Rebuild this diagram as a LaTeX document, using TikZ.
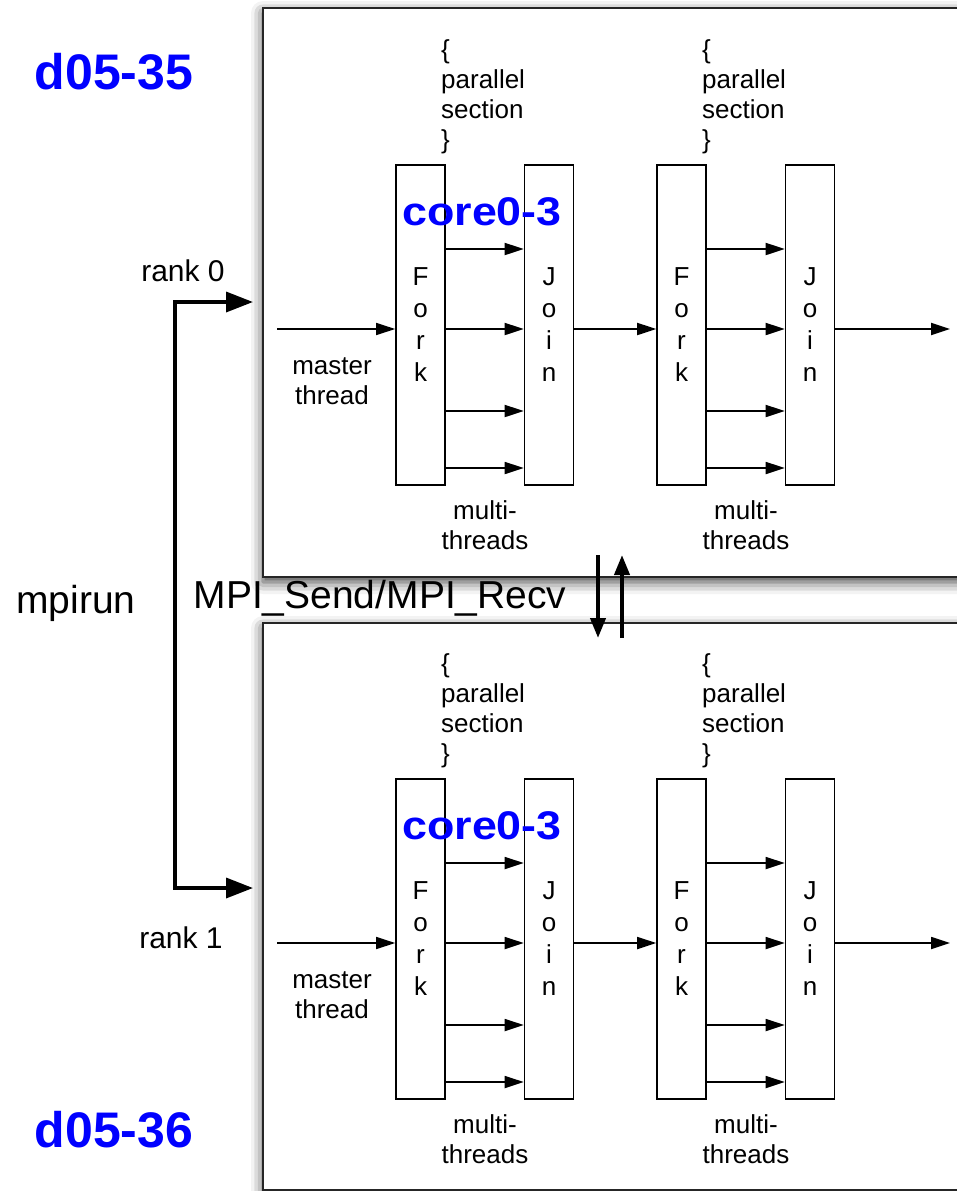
\documentclass[tikz,border=0pt]{standalone}
\usepackage{fontspec}
\setmainfont{Liberation Sans}
\usetikzlibrary{arrows.meta}
\usetikzlibrary{shadows.blur}

\begin{document}
\begin{tikzpicture}[x=1pt,y=-1pt,
		panel/.style={draw=black!85,line width=2pt,fill=white,blur shadow={shadow xshift=0pt,shadow yshift=-5pt,shadow blur radius=12pt,shadow opacity=75}},
		bar/.style={draw=black,line width=1.6pt,minimum width=49pt,minimum height=320pt,inner sep=0pt,align=center,font=\fontsize{26}{32}\selectfont},
		thr/.style={draw=black,line width=1.8pt,-{Triangle[length=19pt,width=12pt,fill=black]}},
		lbl/.style={font=\fontsize{26}{30}\selectfont,align=center,inner sep=0pt},
		host/.style={font=\fontsize{50}{60}\selectfont\bfseries,text=blue,inner sep=0pt},
		big/.style={font=\fontsize{39}{46}\selectfont,inner sep=0pt}]
		\useasboundingbox (0,0) rectangle (957,1191);
		\clip (0,0) rectangle (957,1191);
		\draw[panel] (263,8) rectangle (995,577);
		\draw[panel] (263,623) rectangle (995,1190);
		\foreach \p/\dy in {0/0,1/614}{
			\begin{scope}[yshift=-\dy pt]
				\foreach \b/\dx in {a/0,b/261}{
					\node[bar] (f\p\b) at (420.5+\dx,325) {F\\o\\r\\k};
					\node[bar] (j\p\b) at (549+\dx,325) {J\\o\\i\\n};
					\foreach \t in {249,329,411,468}{
						\coordinate (r) at (0,\t);
						\draw[thr] (f\p\b.east|-r) -- (j\p\b.west|-r);
					}
					\node[lbl,align=left,anchor=west] (s\p\b) at (441+\dx,97) {\{\\parallel\\section\\\}};
					\node[lbl] (m\p\b) at (485+\dx,525) {multi-\\threads};
				}
				\coordinate (mt\p) at (277,329);
				\coordinate (o\p) at (950,329);
				\draw[thr,line width=1.4pt] (mt\p) -- (f\p a.west|-mt\p);
				\draw[thr] (j\p a.east|-mt\p) -- (f\p b.west|-mt\p);
				\draw[thr] (j\p b.east|-o\p) -- (o\p);
				\node[lbl] (ml\p) at (332,381) {master\\thread};
				\node[host,font=\fontsize{40}{48}\selectfont\bfseries] (c\p) at (482,212) {\scalebox{1.12}[1]{core0-3}};
			\end{scope}
		}
		\node[host] (d0) at (114,72) {d05-35};
		\node[host] (d1) at (114,1130) {d05-36};
		\node[lbl,font=\fontsize{30}{34}\selectfont] (rk0) at (183,271) {rank 0};
		\node[lbl,font=\fontsize{30}{34}\selectfont] (rk1) at (181,938) {rank 1};
		\node[big] (run) at (76,603) {mpirun};
		\node[big] (mpi) at (380,598) {MPI\_Send/MPI\_Recv};
		\coordinate (s0) at (253,302);
		\coordinate (k0) at (175,302);
		\coordinate (k1) at (175,888);
		\coordinate (s1) at (253,888);
		\draw[draw=black,line width=3.5pt,{Triangle[length=27pt,width=20pt,fill=black]}-{Triangle[length=27pt,width=20pt,fill=black]}] (s0) -- (k0) -- (k1) -- (s1);
		\coordinate (u0) at (598,555);
		\coordinate (u1) at (598,638);
		\coordinate (v0) at (622,638);
		\coordinate (v1) at (622,555);
		\draw[draw=black,line width=4pt,-{Triangle[length=20pt,width=15pt,fill=black]}] (u0) -- (u1);
		\draw[draw=black,line width=4pt,-{Triangle[length=20pt,width=15pt,fill=black]}] (v0) -- (v1);
	\end{tikzpicture}
\end{document}
